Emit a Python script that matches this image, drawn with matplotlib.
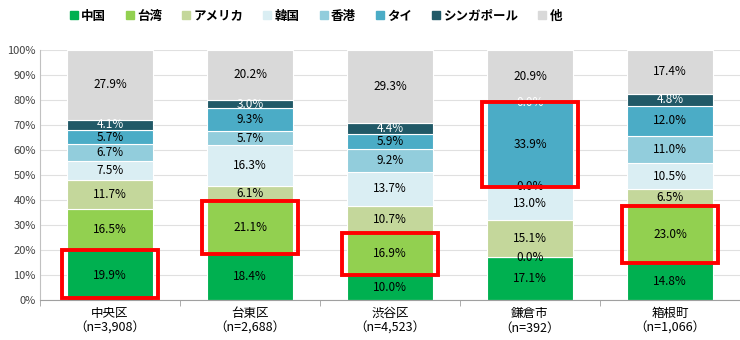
import matplotlib.pyplot as plt
from matplotlib.patches import Rectangle
from matplotlib.lines import Line2D
import numpy as np

plt.rcParams['font.family'] = ['Noto Sans CJK JP', 'DejaVu Sans']

# 地域（x軸）
areas = ['中央区\n（n=3,908）', '台東区\n（n=2,688）', '渋谷区\n（n=4,523）',
         '鎌倉市\n（n=392）', '箱根町\n（n=1,066）']
countries = ['中国', '台湾', 'アメリカ', '韓国', '香港', 'タイ', 'シンガポール', '他']

# 国別の構成比（%）
china = [19.9, 18.4, 10.0, 17.1, 14.8]
taiwan = [16.5, 21.1, 16.9, 0.0, 23.0]
america = [11.7, 6.1, 10.7, 15.1, 6.5]
korea = [7.5, 16.3, 13.7, 13.0, 10.5]
hongkong = [6.7, 5.7, 9.2, 0.0, 11.0]
thai = [5.7, 9.3, 5.9, 33.9, 12.0]
singapore = [4.1, 3.0, 4.4, 0.0, 4.8]
other = [27.9, 20.2, 29.3, 20.9, 17.4]

# 赤枠で囲む (地域番号, 国番号)
highlights = [(0, 0), (1, 1), (2, 1), (3, 5), (4, 1)]

colors = ['#00B050', '#92D050', '#C4D79B', '#DAEEF3', '#92CDDC', '#4BACC6', '#215967', '#D9D9D9']
text_colors = ['black'] * 6 + ['white', 'black']

series = [china, taiwan, america, korea, hongkong, thai, singapore, other]

fig = plt.figure(figsize=(7.4, 3.4), dpi=100)
ax = fig.add_axes([40 / 740, 1 - 300 / 340, 700 / 740, 250 / 340])

x = np.arange(len(areas))
width = 0.62
bottom = np.zeros(len(areas))
bounds = {}
for k, vals in enumerate(series):
    vals = np.array(vals)
    ax.bar(x, vals, width, bottom=bottom, color=colors[k], edgecolor='white', linewidth=0.8, zorder=2)
    for i in range(len(areas)):
        ax.text(x[i], bottom[i] + vals[i] / 2, f'{vals[i]:.1f}%', ha='center', va='center',
                fontsize=8.5, color=text_colors[k], zorder=4)
        bounds[(i, k)] = (bottom[i], bottom[i] + vals[i])
    bottom = bottom + vals

for i, k in highlights:
    lo, hi = bounds[(i, k)]
    lo = max(lo, 0.8)
    ax.add_patch(Rectangle((x[i] - 0.345, lo), 0.69, hi - lo, fill=False,
                           edgecolor='#FF0000', linewidth=2.8, zorder=5, clip_on=False))

ax.set_xlim(-0.5, len(areas) - 0.5)
ax.set_ylim(0, 100)
ax.set_yticks(np.arange(0, 101, 10))
ax.set_yticklabels([f'{v}%' for v in range(0, 101, 10)], fontsize=8, color='#404040')
ax.set_xticks(x)
ax.set_xticklabels(areas, fontsize=9)
ax.set_xticks(np.arange(-0.5, len(areas), 1), minor=True)
ax.tick_params(axis='x', which='major', length=0, pad=5)
ax.tick_params(axis='x', which='minor', length=4, color='#A0A0A0')
ax.tick_params(axis='y', length=0, pad=3)
ax.grid(axis='y', color='#E0E0E0', linewidth=0.8, zorder=0)
for s in ['top', 'right']:
    ax.spines[s].set_visible(False)
ax.spines['left'].set_color('#C0C0C0')
ax.spines['bottom'].set_color('#A0A0A0')

handles = [Line2D([], [], marker='s', linestyle='none', markersize=5.5, color=c) for c in colors]
fig.legend(handles, countries, loc='upper left', bbox_to_anchor=(56 / 740, 1.005), ncol=8,
           frameon=False, handletextpad=0.1, columnspacing=1.4, handlelength=1.0,
           prop={'size': 9, 'weight': 'bold'})

fig.savefig('out.png', dpi=100)
